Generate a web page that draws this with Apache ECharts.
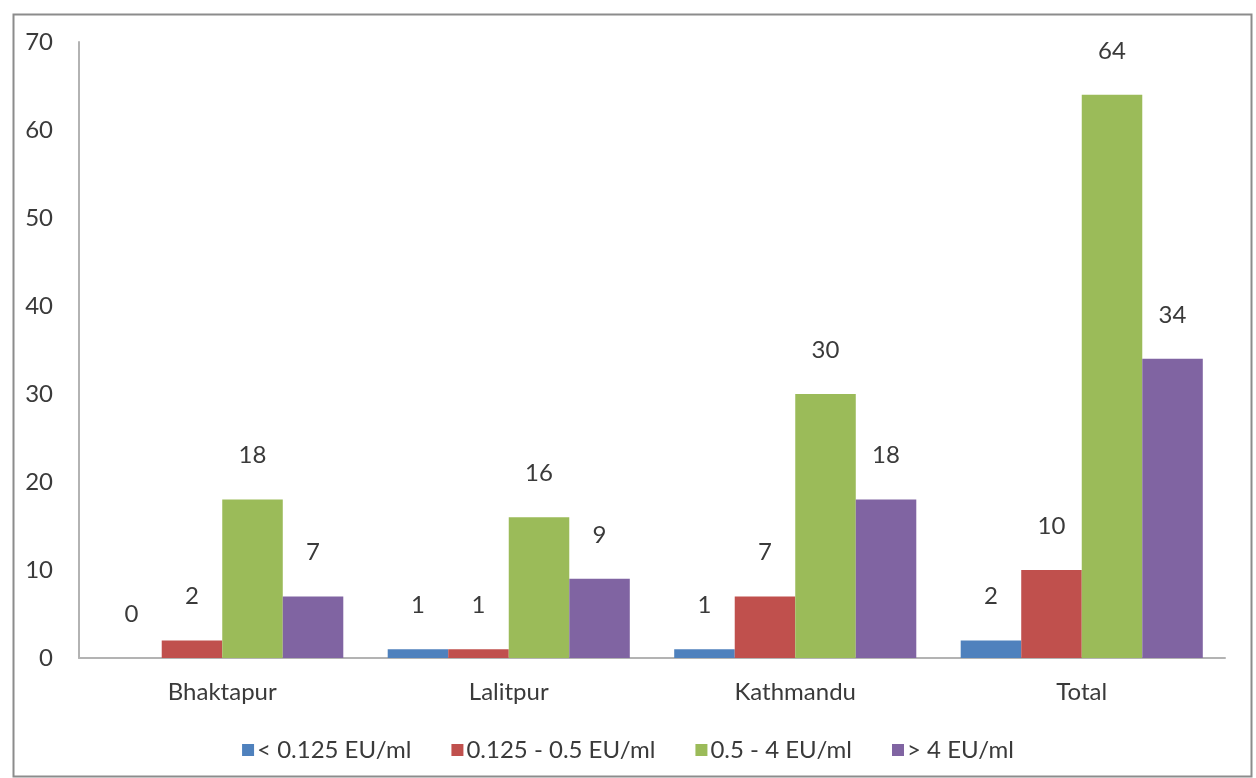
<!DOCTYPE html>
<html>
<head>
<meta charset="utf-8">
<script src="https://cdn.jsdelivr.net/npm/echarts@6/dist/echarts.min.js"></script>
<style>html,body{margin:0;padding:0;background:#fff;}#c{width:1256px;height:778px;}</style>
</head>
<body>
<div id="c"></div>
<script>
var categories = ['Bhaktapur', 'Lalitpur', 'Kathmandu', 'Total'];
var seriesNames = ['< 0.125 EU/ml', '0.125 - 0.5 EU/ml', '0.5 - 4 EU/ml', '> 4 EU/ml'];
var lowValues = [0, 1, 1, 2];
var midLowValues = [2, 1, 7, 10];
var midHighValues = [18, 16, 30, 64];
var highValues = [7, 9, 18, 34];
var yTicks = {min: 0, max: 70, interval: 10};

var colors = ['#4F81BD', '#C0504D', '#9BBB59', '#8064A2'];
var allValues = [lowValues, midLowValues, midHighValues, highValues];
var font = 'Lato, "Open Sans", sans-serif';
var txt = '#3a3a3a';

var chart = echarts.init(document.getElementById('c'));
chart.setOption({
  animation: false,
  textStyle: {fontFamily: font},
  graphic: [{
    type: 'rect', left: 11, top: 12,
    shape: {width: 1238, height: 762},
    style: {fill: 'none', stroke: '#8c8c8c', lineWidth: 2},
    silent: true
  }],
  grid: {left: 79, right: 31, top: 42, bottom: 120, containLabel: false},
  legend: {
    top: 733, left: 'center',
    itemWidth: 12, itemHeight: 12, itemGap: 40,
    icon: 'rect',
    textStyle: {fontSize: 24, color: txt, fontFamily: font, padding: [0, 0, 0, -2]},
    data: seriesNames
  },
  xAxis: {
    type: 'category', data: categories,
    axisLine: {lineStyle: {color: '#b3b3b3', width: 2}},
    axisTick: {show: false},
    axisLabel: {fontSize: 24, color: txt, margin: 22, fontFamily: font}
  },
  yAxis: {
    type: 'value', min: yTicks.min, max: yTicks.max, interval: yTicks.interval,
    axisLine: {show: true, lineStyle: {color: '#b3b3b3', width: 2}},
    axisTick: {show: false},
    splitLine: {show: false},
    axisLabel: {fontSize: 24, color: txt, margin: 26, fontFamily: font}
  },
  series: allValues.map(function (vals, i) {
    return {
      name: seriesNames[i], type: 'bar', data: vals,
      barGap: '0%', barCategoryGap: '15.5%',
      itemStyle: {color: colors[i]},
      label: {show: true, position: 'top', distance: 32, fontSize: 24, color: txt, fontFamily: font}
    };
  })
});
</script>
</body>
</html>
